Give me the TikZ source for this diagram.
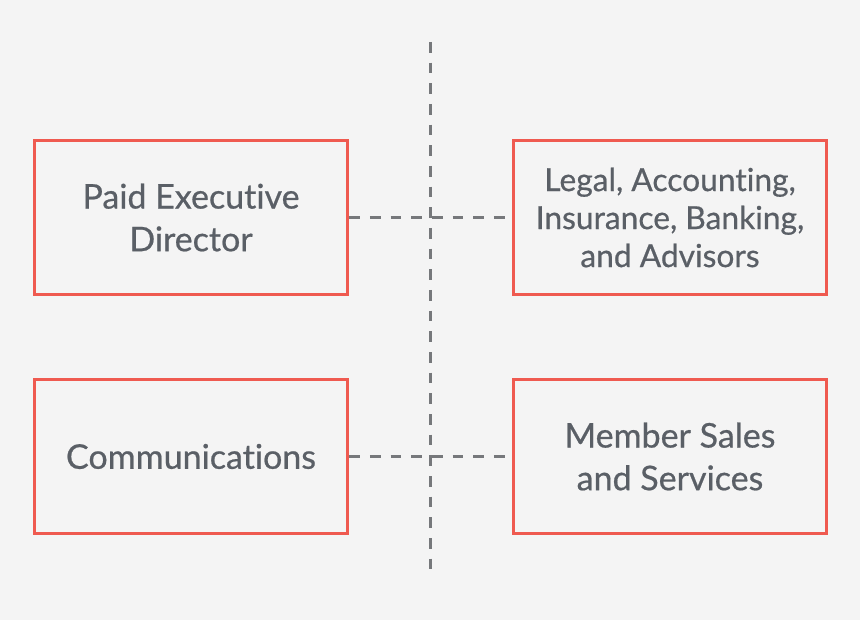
\documentclass[tikz,border=0pt]{standalone}
\usepackage{fontspec}
\setmainfont{Lato}[FakeBold=0.6,Ligatures={NoCommon}]
\usetikzlibrary{positioning}

\definecolor{bgGray}{HTML}{F4F4F4}
\definecolor{boxRed}{HTML}{EF5A50}
\definecolor{txtGray}{HTML}{5A5F66}
\definecolor{lineGray}{HTML}{76787B}

\tikzset{every picture/.style={line width=0.75pt}}
\tikzset{
  rolebox/.style={draw=boxRed, line width=2.25pt, minimum width=235pt, minimum height=116pt,
    text=txtGray, align=center, inner sep=0.75pt, font=\fontsize{25.5}{32}\selectfont},
  tieline/.style={draw=lineGray, line width=2.25pt, dash pattern=on 8pt off 7.5pt}
}

\begin{document}
\begin{tikzpicture}[x=0.75pt,y=0.75pt,yscale=-1,xscale=1]
        \fill[bgGray] (0,0) rectangle (860,620);
        \useasboundingbox (0,0) rectangle (860,620);

        \node[rolebox] (ped) at (191,217.5) {Paid Executive\\Director};
        \node[rolebox, font=\fontsize{23.8}{28.5}\selectfont] (adv) at (670,217.5) {Legal, Accounting,\\Insurance, Banking,\\and Advisors};
        \node[rolebox] (com) at (191,456.5) {Communications};
        \node[rolebox] (mss) at (670,456.5) {Member Sales\\and Services};

        \coordinate (top) at (430,42);
        \coordinate (bot) at (430,578);

        \draw[tieline] (top) -- (bot);
        \draw[tieline] (ped) -- (adv);
        \draw[tieline] (com) -- (mss);
    \end{tikzpicture}
\end{document}
